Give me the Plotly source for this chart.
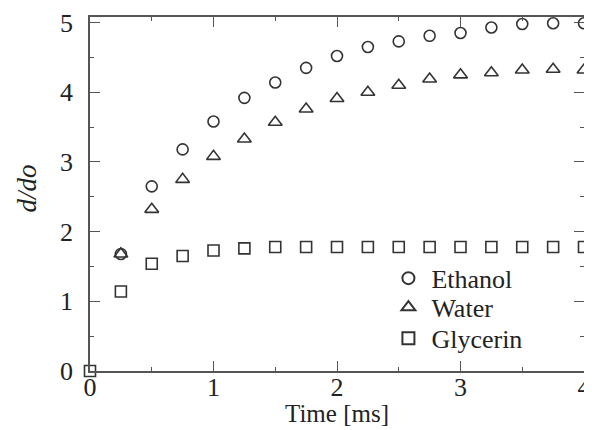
import plotly.graph_objects as go

time_ms = [0.25, 0.5, 0.75, 1.0, 1.25, 1.5, 1.75, 2.0, 2.25, 2.5, 2.75, 3.0, 3.25, 3.5, 3.75, 4.0]
ethanol = [1.68, 2.65, 3.18, 3.58, 3.92, 4.14, 4.35, 4.52, 4.65, 4.73, 4.81, 4.85, 4.93, 4.98, 4.99, 4.99]
water = [1.68, 2.32, 2.75, 3.08, 3.33, 3.57, 3.76, 3.91, 4.00, 4.10, 4.19, 4.25, 4.28, 4.32, 4.33, 4.32]
glycerin_time = [0.0] + time_ms
glycerin = [0.0, 1.14, 1.54, 1.65, 1.73, 1.76, 1.78, 1.78, 1.78, 1.78, 1.78, 1.78, 1.78, 1.78, 1.78, 1.78, 1.78]

ink = "#333333"
axis_col = "#555555"
text_col = "#222222"
font_family = "Liberation Serif"

fig = go.Figure()
fig.add_trace(go.Scatter(x=time_ms, y=ethanol, mode="markers", name="Ethanol",
                         cliponaxis=False, legend="legend",
                         marker=dict(symbol="circle-open", size=11, color=ink, line=dict(width=1.6, color=ink))))
fig.add_trace(go.Scatter(x=time_ms, y=water, mode="markers", name="Water",
                         cliponaxis=False, legend="legend2",
                         marker=dict(symbol="triangle-up-open", size=12, color=ink, line=dict(width=1.6, color=ink))))
fig.add_trace(go.Scatter(x=glycerin_time, y=glycerin, mode="markers", name="Glycerin",
                         cliponaxis=False, legend="legend3",
                         marker=dict(symbol="square-open", size=11, color=ink, line=dict(width=1.6, color=ink))))

axis_common = dict(showline=True, linecolor=axis_col, linewidth=1.6, mirror="ticks",
                   ticks="inside", ticklen=10, tickwidth=1.4, tickcolor=axis_col,
                   showgrid=False, zeroline=False, automargin=False,
                   ticklabeloverflow="allow",
                   tickfont=dict(family=font_family, size=26, color=text_col))

fig.update_xaxes(range=[0, 4], dtick=1, tick0=0, ticklabelstandoff=-8,
                 minor=dict(dtick=0.5, ticks="inside", ticklen=4, tickwidth=1.4, tickcolor=axis_col, showgrid=False),
                 **axis_common)
fig.update_yaxes(range=[0, 5.08], dtick=1, tick0=0, ticklabelstandoff=10,
                 minor=dict(dtick=0.5, ticks="inside", ticklen=4, tickwidth=1.4, tickcolor=axis_col, showgrid=False),
                 **axis_common)

fig.add_annotation(text="Time [ms]", xref="paper", yref="paper", x=0.5, y=-0.121,
                   xanchor="center", yanchor="middle", showarrow=False,
                   font=dict(family=font_family, size=25, color=text_col))
fig.add_annotation(text="<i>d/do</i>", xref="paper", yref="paper", x=-0.127, y=0.516,
                   xanchor="center", yanchor="middle", showarrow=False, textangle=-90,
                   font=dict(family=font_family, size=27, color=text_col))

leg_common = dict(x=0.598, xanchor="left", yanchor="middle",
                  font=dict(family=font_family, size=26, color=text_col),
                  bgcolor="rgba(0,0,0,0)", itemsizing="constant", itemwidth=36)

fig.update_layout(
    width=584, height=422,
    margin=dict(l=82, r=8, t=9, b=59),
    plot_bgcolor="white", paper_bgcolor="white",
    showlegend=True,
    legend=dict(y=0.262, **leg_common),
    legend2=dict(y=0.180, **leg_common),
    legend3=dict(y=0.092, **leg_common),
)

fig.write_html("out.html")
